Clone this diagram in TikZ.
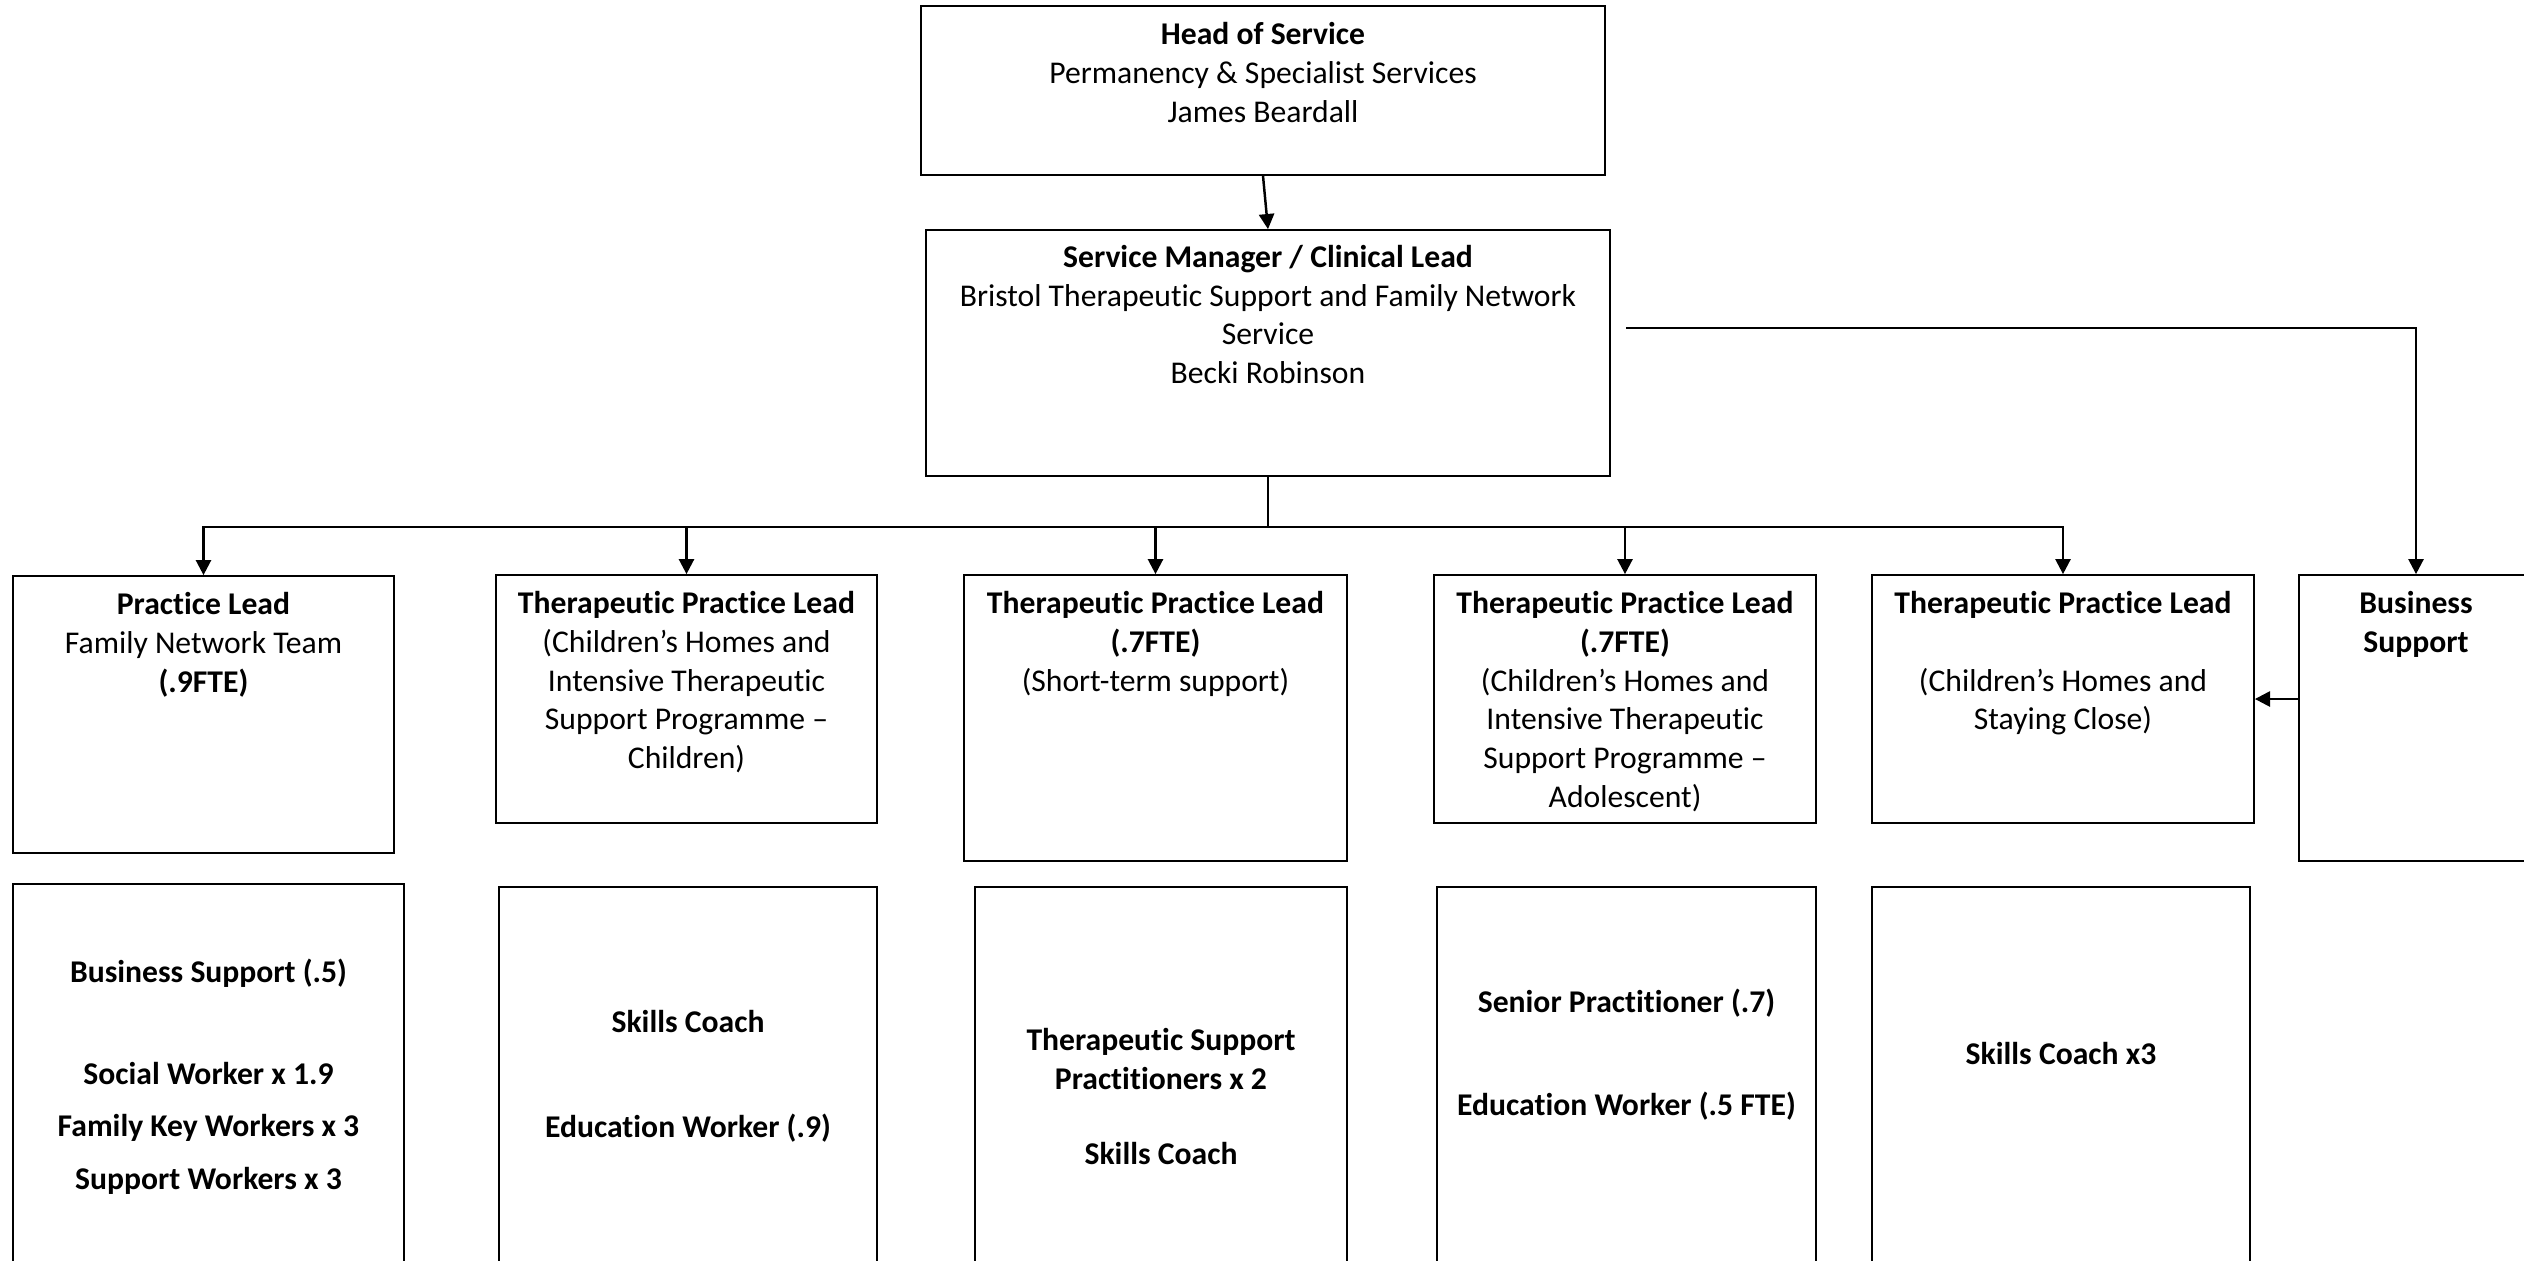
\documentclass[tikz,border=0pt]{standalone}
\usepackage{fontspec}
\setmainfont{Carlito}[Ligatures=NoCommon]
\usetikzlibrary{arrows.meta,positioning}

\begin{document}
\begin{tikzpicture}[x=0.01cm,y=0.01cm,-{Triangle[length=4.3pt,width=4.3pt]},
            line width=0.7pt,
            box/.style={draw,rectangle,line width=0.45pt,inner sep=0pt},
            txt/.style={align=center,inner sep=0pt,font=\fontsize{9}{11}\selectfont},
            staff/.style={txt,font=\fontsize{9}{11}\selectfont\bfseries},
            elbow/.style={to path={-| (\tikztotarget)}}]

        \useasboundingbox (0,0) rectangle (2524,-1260);

        % Define boxes
        \node[box,minimum width=6.84cm,minimum height=1.69cm] (head) at (1263,-90.5) {};
        \node[box,minimum width=6.84cm,minimum height=2.46cm] (sm) at (1268,-353) {};
        \node[box,minimum width=3.81cm,minimum height=2.77cm] (pl) at (203.5,-714.5) {};
        \node[box,minimum width=3.81cm,minimum height=2.48cm] (tpa) at (686.5,-699) {};
        \node[box,minimum width=3.83cm,minimum height=2.86cm] (tpb) at (1155.5,-718) {};
        \node[box,minimum width=3.82cm,minimum height=2.48cm] (tpc) at (1625,-699) {};
        \node[box,minimum width=3.82cm,minimum height=2.48cm] (tpd) at (2063,-699) {};
        \node[box,minimum width=2.34cm,minimum height=2.86cm] (bs) at (2416,-718) {};
        \node[box,minimum width=3.91cm,minimum height=4cm] (sa) at (208.5,-1084) {};
        \node[box,minimum width=3.78cm,minimum height=4cm] (sb) at (688,-1087) {};
        \node[box,minimum width=3.72cm,minimum height=4cm] (sc) at (1161,-1087) {};
        \node[box,minimum width=3.79cm,minimum height=4cm] (sd) at (1626.5,-1087) {};
        \node[box,minimum width=3.78cm,minimum height=4cm] (se) at (2061,-1087) {};

        % Box texts
        \node[txt,below=4.6pt of head.north] (headtxt) {\textbf{Head of Service}\\Permanency \& Specialist Services\\James Beardall};
        \node[txt,below=4.2pt of sm.north] (smtxt) {\textbf{Service Manager / Clinical Lead}\\Bristol Therapeutic Support and Family Network\\Service\\Becki Robinson};
        \node[txt,below=4.6pt of pl.north] (pltxt) {\textbf{Practice Lead}\\Family Network Team\\\textbf{(.9FTE)}};
        \node[txt,below=4.6pt of tpa.north] (tpatxt) {\textbf{Therapeutic Practice Lead}\\(Children’s Homes and\\Intensive Therapeutic\\Support Programme –\\Children)};
        \node[txt,below=4.6pt of tpb.north] (tpbtxt) {\textbf{Therapeutic Practice Lead}\\\textbf{(.7FTE)}\\(Short-term support)};
        \node[txt,below=4.6pt of tpc.north] (tpctxt) {\textbf{Therapeutic Practice Lead}\\\textbf{(.7FTE)}\\(Children’s Homes and\\Intensive Therapeutic\\Support Programme –\\Adolescent)};
        \node[txt,below=4.6pt of tpd.north] (tpdtxt) {\textbf{Therapeutic Practice Lead}\\[11pt](Children’s Homes and\\Staying Close)};
        \node[staff,below=4.6pt of bs.north] (bstxt) {Business\\Support};
        \node[staff,below=21.3pt of sa.north] (satxt) {Business Support (.5)\\[17.8pt]Social Worker x 1.9\\[4pt]Family Key Workers x 3\\[4pt]Support Workers x 3};
        \node[staff,below=35pt of sb.north] (sbtxt) {Skills Coach\\[18.8pt]Education Worker (.9)};
        \node[staff,below=40.1pt of sc.north] (sctxt) {Therapeutic Support\\Practitioners x 2\\[10.5pt]Skills Coach};
        \node[staff,below=29pt of sd.north] (sdtxt) {Senior Practitioner (.7)\\[18.3pt]Education Worker (.5 FTE)};
        \node[staff,below=44.1pt of se.north] (setxt) {Skills Coach x3};

        % Draw edges
        \path (sm.south) ++(0,-50) coordinate (bus);
        \coordinate (smr) at (1626,-328);
        \draw (head.south) -- (sm.north);
        \draw[-] (sm.south) -- (bus);
        \path (bus) edge[elbow] (pl.north)
                    edge[elbow] (tpa.north)
                    edge[elbow] (tpb.north)
                    edge[elbow] (tpc.north)
                    edge[elbow] (tpd.north);
        \draw (smr) -| (bs.north);
        \draw (bs.west |- tpd.east) -- (tpd.east);

\end{tikzpicture}
\end{document}
